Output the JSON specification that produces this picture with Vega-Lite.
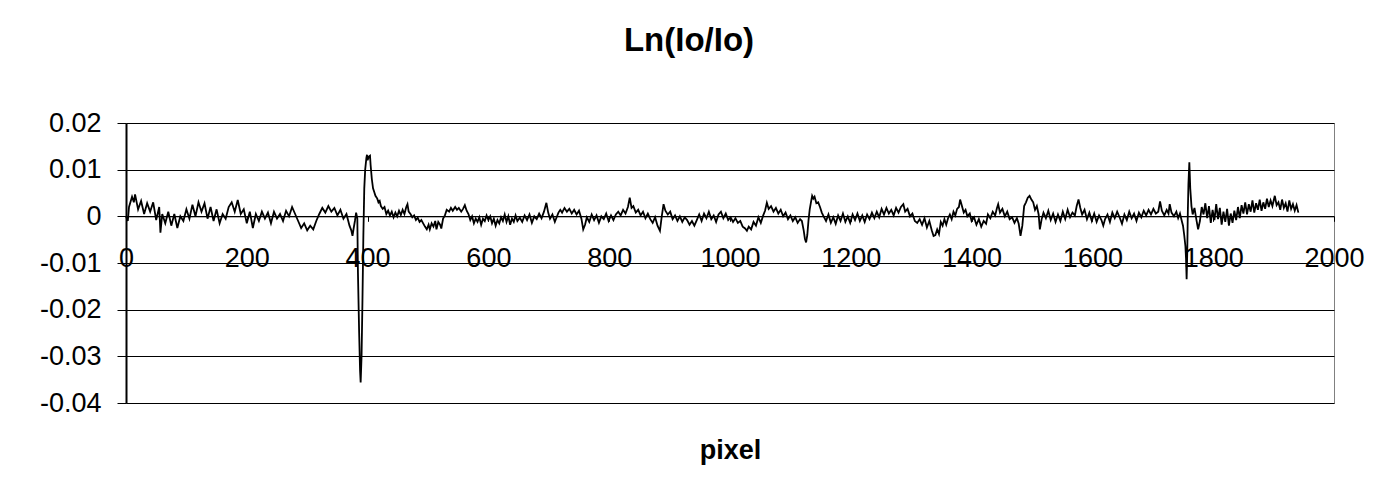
{
"$schema": "https://vega.github.io/schema/vega-lite/v6.json",
"width": 1208,
"height": 280,
"autosize": {"type": "none"},
"padding": {"left": 126, "top": 123, "right": 44, "bottom": 84},
"background": "#ffffff",
"title": {"text": "Ln(Io/Io)", "font": "Liberation Sans", "fontSize": 33, "fontWeight": "bold", "color": "#000000", "anchor": "middle", "frame": "group", "dx": -41, "offset": 25, "baseline": "alphabetic"},
"config": {"view": {"stroke": "#808080", "strokeWidth": 1}},
"data": {"values": [
{"x":0,"y":0},{"x":3,"y":-0.001},{"x":5,"y":0.002},{"x":10,"y":0.0042},{"x":13,"y":0.003},{"x":15,"y":0.0047},{"x":20,"y":0.0015},{"x":25,"y":0.0033},{"x":30,"y":0.0005},{"x":35,"y":0.0028},{"x":40,"y":0.001},{"x":45,"y":0.003},{"x":50,"y":-0.0008},{"x":55,"y":0.002},{"x":57,"y":-0.0035},{"x":60,"y":0.0005},{"x":65,"y":-0.0015},{"x":70,"y":0.001},{"x":75,"y":-0.002},{"x":80,"y":0.0005},{"x":85,"y":-0.0025},{"x":90,"y":0},{"x":95,"y":-0.001},{"x":100,"y":0.0015},{"x":105,"y":-0.0005},{"x":110,"y":0.0025},{"x":115,"y":0},{"x":120,"y":0.003},{"x":125,"y":0.001},{"x":130,"y":0.0028},{"x":135,"y":-0.0005},{"x":140,"y":0.002},{"x":145,"y":-0.001},{"x":150,"y":0.0015},{"x":155,"y":-0.0015},{"x":160,"y":0.0005},{"x":165,"y":-0.0005},{"x":170,"y":0.002},{"x":175,"y":0.003},{"x":180,"y":0.001},{"x":185,"y":0.0035},{"x":190,"y":0.0005},{"x":195,"y":0.0015},{"x":200,"y":-0.0015},{"x":205,"y":0.001},{"x":210,"y":-0.0025},{"x":215,"y":0.0005},{"x":220,"y":-0.001},{"x":225,"y":0.001},{"x":230,"y":-0.0005},{"x":235,"y":0.0008},{"x":240,"y":-0.0015},{"x":245,"y":0.001},{"x":250,"y":-0.0005},{"x":255,"y":0.0005},{"x":260,"y":-0.001},{"x":265,"y":0.0012},{"x":270,"y":0},{"x":275,"y":0.002},{"x":280,"y":0.0005},{"x":285,"y":-0.001},{"x":290,"y":-0.0025},{"x":295,"y":-0.0015},{"x":300,"y":-0.003},{"x":305,"y":-0.002},{"x":310,"y":-0.0028},{"x":315,"y":-0.001},{"x":320,"y":0.0005},
{"x":325,"y":0.0018},{"x":330,"y":0.0008},{"x":335,"y":0.0022},{"x":340,"y":0.001},{"x":345,"y":0.0018},{"x":350,"y":0.0002},{"x":355,"y":0.0014},{"x":360,"y":-0.0005},{"x":365,"y":0.0005},{"x":370,"y":-0.002},{"x":373,"y":-0.003},{"x":375,"y":-0.0042},{"x":377,"y":-0.0025},{"x":379,"y":-0.001},{"x":381,"y":0.0008},{"x":383,"y":-0.0005},{"x":384,"y":-0.012},{"x":386,"y":-0.025},{"x":387.5,"y":-0.033},{"x":388.5,"y":-0.0356},{"x":390,"y":-0.03},{"x":391.5,"y":-0.018},{"x":393,"y":-0.004},{"x":394.5,"y":0.006},{"x":396,"y":0.01},{"x":398,"y":0.0125},{"x":399,"y":0.0132},{"x":400,"y":0.012},{"x":402,"y":0.0128},{"x":404,"y":0.013},{"x":405,"y":0.011},{"x":407,"y":0.008},{"x":409,"y":0.006},{"x":411,"y":0.0052},{"x":413,"y":0.0044},{"x":416,"y":0.0038},{"x":418,"y":0.003},{"x":420,"y":0.0033},{"x":422,"y":0.0022},{"x":425,"y":0.0016},{"x":428,"y":0.002},{"x":431,"y":0.0005},{"x":434,"y":0.0012},{"x":437,"y":0.0002},{"x":440,"y":0.001},{"x":443,"y":-0.0002},{"x":446,"y":0.0008},{"x":449,"y":0},{"x":452,"y":0.0012},{"x":455,"y":0.0003},{"x":458,"y":0.0014},{"x":461,"y":0.0005},{"x":464,"y":0.002},{"x":466,"y":0.0026},{"x":468,"y":0.001},{"x":471,"y":0.0005},{"x":474,"y":-0.0002},{"x":477,"y":0.0002},{"x":480,"y":-0.0008},{"x":483,"y":-0.0003},{"x":486,"y":-0.0012},{"x":489,"y":-0.0008},{"x":492,"y":-0.0015},{"x":495,"y":-0.0022},{"x":498,"y":-0.0028},{"x":501,"y":-0.0018},{"x":503,"y":-0.0028},{"x":506,"y":-0.0015},{"x":509,"y":-0.0022},{"x":512,"y":-0.001},{"x":514,"y":-0.0028},{"x":517,"y":-0.0012},{"x":520,"y":-0.0018},{"x":522,"y":-0.0026},{"x":525,"y":-0.0005},{"x":528,"y":0.0002},{"x":531,"y":0.0014},{"x":535,"y":0.001},{"x":538,"y":0.0018},{"x":541,"y":0.0012},{"x":545,"y":0.002},{"x":548,"y":0.0014},{"x":551,"y":0.0018},{"x":555,"y":0.001},{"x":558,"y":0.0016},{"x":561,"y":0.0024},{"x":564,"y":0.0012},{"x":567,"y":0.0005},{"x":570,"y":-0.0008},{"x":573,"y":0},{"x":576,"y":-0.0015},{"x":579,"y":-0.0005},{"x":582,"y":-0.0012},{"x":585,"y":-0.0002},{"x":588,"y":-0.0018},{"x":591,"y":-0.0005},{"x":594,"y":-0.001},{"x":597,"y":0.0002},{"x":600,"y":-0.0008},{"x":603,"y":0},{"x":606,"y":-0.0015},{"x":609,"y":-0.0005},{"x":612,"y":-0.002},{"x":615,"y":-0.0008},{"x":618,"y":-0.0015},{"x":621,"y":-0.0002},{"x":624,"y":-0.001},{"x":627,"y":0.0004},{"x":630,"y":-0.0012},{"x":633,"y":0},{"x":636,"y":-0.0018},{"x":639,"y":-0.0005},{"x":642,"y":-0.0012},{"x":645,"y":0.0002},{"x":648,"y":-0.001},{"x":652,"y":-0.0003},
{"x":656,"y":-0.0012},{"x":660,"y":0.0002},{"x":664,"y":-0.0008},{"x":668,"y":0.0004},{"x":672,"y":-0.0014},{"x":676,"y":0},{"x":680,"y":-0.0006},{"x":684,"y":0.0006},{"x":688,"y":-0.0004},{"x":692,"y":0.001},{"x":696,"y":0.0029},{"x":699,"y":0.0008},{"x":702,"y":-0.0005},{"x":706,"y":0.0004},{"x":710,"y":-0.0012},{"x":713,"y":-0.0002},{"x":716,"y":0.0008},{"x":719,"y":0.0014},{"x":722,"y":0.0008},{"x":726,"y":0.0018},{"x":730,"y":0.001},{"x":734,"y":0.0016},{"x":738,"y":0.0006},{"x":742,"y":0.0014},{"x":746,"y":0.0004},{"x":750,"y":0.0012},{"x":754,"y":-0.0005},{"x":757,"y":-0.0028},{"x":760,"y":-0.0018},{"x":763,"y":-0.0002},{"x":767,"y":-0.0012},{"x":771,"y":0.0004},{"x":775,"y":-0.0008},{"x":779,"y":0.0002},{"x":783,"y":-0.0014},{"x":787,"y":0},{"x":791,"y":-0.0006},{"x":795,"y":0.0006},{"x":799,"y":-0.001},{"x":803,"y":0.0002},{"x":807,"y":-0.0008},{"x":811,"y":0.0004},{"x":815,"y":0.001},{"x":819,"y":0.0002},{"x":823,"y":0.0014},{"x":827,"y":0.0006},{"x":831,"y":0.002},{"x":834,"y":0.004},{"x":837,"y":0.0018},{"x":840,"y":0.0022},{"x":844,"y":0.0008},{"x":848,"y":0.0014},{"x":852,"y":0.0002},{"x":856,"y":0.001},{"x":860,"y":-0.0004},{"x":864,"y":0.0006},{"x":868,"y":-0.0006},{"x":872,"y":-0.0014},{"x":876,"y":-0.0002},{"x":880,"y":-0.002},{"x":884,"y":-0.0031},{"x":887,"y":0},{"x":890,"y":0.0026},{"x":893,"y":0.0012},{"x":897,"y":0.0004},{"x":901,"y":0.001},{"x":905,"y":-0.0006},{"x":909,"y":0.0002},{"x":913,"y":-0.001},{"x":917,"y":0},{"x":921,"y":-0.0012},{"x":925,"y":-0.0002},{"x":929,"y":-0.0008},{"x":933,"y":-0.0018},{"x":937,"y":-0.001},{"x":941,"y":-0.002},{"x":945,"y":-0.0008},{"x":949,"y":0.0004},{"x":953,"y":-0.001},{"x":957,"y":0.0006},{"x":961,"y":-0.0004},{"x":965,"y":0.001},{"x":969,"y":-0.0006},{"x":973,"y":0.0002},{"x":977,"y":-0.0012},{"x":981,"y":0.0004},
{"x":985,"y":0.001},{"x":989,"y":-0.0004},{"x":993,"y":0.0006},{"x":997,"y":-0.0008},{"x":1001,"y":-0.0002},{"x":1005,"y":-0.0012},{"x":1009,"y":-0.0004},{"x":1013,"y":-0.0014},{"x":1017,"y":-0.001},{"x":1021,"y":-0.0022},{"x":1025,"y":-0.0026},{"x":1028,"y":-0.0031},{"x":1031,"y":-0.0022},{"x":1035,"y":-0.0028},{"x":1039,"y":-0.0012},{"x":1043,"y":-0.002},{"x":1047,"y":-0.0002},{"x":1051,"y":-0.0014},{"x":1055,"y":0.0002},{"x":1058,"y":0.0012},{"x":1061,"y":0.0029},{"x":1064,"y":0.0016},{"x":1068,"y":0.0022},{"x":1072,"y":0.001},{"x":1076,"y":0.0018},{"x":1080,"y":0.0006},{"x":1084,"y":0.0014},{"x":1088,"y":0},{"x":1092,"y":0.0008},{"x":1096,"y":-0.0006},{"x":1100,"y":0.0002},{"x":1104,"y":-0.001},{"x":1108,"y":-0.0002},{"x":1112,"y":-0.0014},{"x":1116,"y":-0.0006},{"x":1119,"y":-0.001},{"x":1122,"y":-0.003},{"x":1124,"y":-0.0048},{"x":1126,"y":-0.0056},{"x":1128,"y":-0.004},{"x":1130,"y":-0.0008},{"x":1132,"y":0.0015},{"x":1134,"y":0.003},{"x":1136,"y":0.0044},{"x":1138,"y":0.0038},{"x":1140,"y":0.0042},{"x":1143,"y":0.0028},{"x":1146,"y":0.003},{"x":1149,"y":0.002},{"x":1152,"y":0.0008},{"x":1155,"y":0},{"x":1159,"y":-0.001},{"x":1163,"y":0.0004},{"x":1167,"y":-0.0014},{"x":1171,"y":-0.0002},{"x":1175,"y":-0.0016},{"x":1179,"y":0.0002},{"x":1183,"y":-0.001},{"x":1187,"y":0.0006},{"x":1191,"y":-0.0012},{"x":1195,"y":0},{"x":1199,"y":-0.0014},{"x":1203,"y":0.0004},{"x":1207,"y":-0.0008},{"x":1211,"y":0.0006},{"x":1215,"y":-0.001},{"x":1219,"y":0.0002},{"x":1223,"y":-0.0012},{"x":1227,"y":0.0004},{"x":1231,"y":-0.0006},{"x":1235,"y":0.0008},{"x":1239,"y":-0.0004},{"x":1243,"y":0.001},{"x":1247,"y":-0.0002},{"x":1251,"y":0.0016},{"x":1255,"y":0.0004},{"x":1259,"y":0.0018},{"x":1263,"y":0.0006},{"x":1267,"y":0.0014},{"x":1271,"y":0.0002},{"x":1275,"y":0.0018},{"x":1279,"y":0.0008},{"x":1283,"y":0.002},{"x":1287,"y":0.0026},{"x":1290,"y":0.001},{"x":1294,"y":0.0016},{"x":1298,"y":0},{"x":1302,"y":0.0006},{"x":1306,"y":-0.001},{"x":1310,"y":-0.0014},{"x":1314,"y":-0.0006},
{"x":1318,"y":-0.0018},{"x":1322,"y":-0.0004},{"x":1326,"y":-0.0024},{"x":1330,"y":-0.001},{"x":1334,"y":-0.003},{"x":1337,"y":-0.0042},{"x":1340,"y":-0.004},{"x":1343,"y":-0.0028},{"x":1346,"y":-0.0038},{"x":1349,"y":-0.0012},{"x":1352,"y":-0.002},{"x":1355,"y":-0.0006},{"x":1358,"y":-0.0018},{"x":1361,"y":-0.0004},{"x":1364,"y":0.0004},{"x":1367,"y":-0.0006},{"x":1370,"y":0.001},{"x":1373,"y":0.0002},{"x":1376,"y":0.0016},{"x":1379,"y":0.002},{"x":1381,"y":0.0036},{"x":1384,"y":0.0022},{"x":1387,"y":0.0008},{"x":1390,"y":0.0014},{"x":1393,"y":0},{"x":1397,"y":0.0006},{"x":1400,"y":-0.001},{"x":1404,"y":-0.0002},{"x":1408,"y":-0.0018},{"x":1412,"y":-0.0006},{"x":1416,"y":-0.0022},{"x":1420,"y":-0.001},{"x":1424,"y":-0.0016},{"x":1427,"y":0.0004},{"x":1431,"y":-0.0004},{"x":1435,"y":0.001},{"x":1439,"y":0.0002},{"x":1442,"y":0.0018},{"x":1444,"y":0.0026},{"x":1447,"y":0.0008},{"x":1451,"y":0.0016},{"x":1455,"y":0},{"x":1459,"y":0.001},{"x":1463,"y":-0.0006},{"x":1467,"y":-0.0002},{"x":1471,"y":-0.0014},{"x":1475,"y":-0.0004},{"x":1478,"y":-0.0016},{"x":1481,"y":-0.0042},{"x":1484,"y":-0.002},{"x":1487,"y":0.0022},{"x":1490,"y":0.003},{"x":1493,"y":0.004},{"x":1496,"y":0.0044},{"x":1499,"y":0.0036},{"x":1502,"y":0.003},{"x":1505,"y":0.0014},{"x":1508,"y":0.0022},{"x":1511,"y":0.0004},{"x":1513,"y":-0.0028},{"x":1516,"y":-0.0006},{"x":1519,"y":0.0008},{"x":1523,"y":-0.0004},{"x":1527,"y":0.0012},{"x":1531,"y":-0.0008},{"x":1535,"y":0.0006},{"x":1539,"y":-0.0012},{"x":1543,"y":0.0004},{"x":1547,"y":-0.001},{"x":1551,"y":0.001},{"x":1555,"y":-0.0006},{"x":1559,"y":0.0014},{"x":1563,"y":-0.0002},{"x":1567,"y":0.0008},{"x":1571,"y":0.0002},{"x":1574,"y":0.0022},{"x":1577,"y":0.0036},{"x":1580,"y":0.0018},{"x":1583,"y":0.0004},{"x":1587,"y":0.0014},{"x":1591,"y":-0.0006},{"x":1595,"y":0.0008},{"x":1599,"y":-0.001},{"x":1603,"y":0.0006},{"x":1607,"y":-0.0012},{"x":1611,"y":0.0002},{"x":1615,"y":-0.0008},{"x":1618,"y":-0.002},{"x":1621,"y":-0.0006},{"x":1625,"y":0.0004},{"x":1629,"y":-0.0012},{"x":1633,"y":0.0008},{"x":1637,"y":-0.0004},{"x":1641,"y":0.001},{"x":1645,"y":-0.0002},
{"x":1649,"y":-0.0016},{"x":1653,"y":0.0004},{"x":1657,"y":-0.0008},{"x":1661,"y":0.001},{"x":1665,"y":-0.0004},{"x":1669,"y":0.0006},{"x":1673,"y":-0.001},{"x":1677,"y":0.0008},{"x":1681,"y":-0.0002},{"x":1685,"y":0.0012},{"x":1689,"y":0.0002},{"x":1693,"y":0.0014},{"x":1697,"y":0.0004},{"x":1701,"y":0.0016},{"x":1705,"y":0.0006},{"x":1709,"y":0.001},{"x":1712,"y":0.0032},{"x":1715,"y":0.0012},{"x":1719,"y":0.0002},{"x":1723,"y":0.0014},{"x":1726,"y":0.0006},{"x":1728,"y":0.0026},{"x":1731,"y":0.0008},{"x":1735,"y":0},{"x":1739,"y":0.001},{"x":1742,"y":-0.0004},{"x":1745,"y":0.0006},{"x":1748,"y":-0.001},{"x":1750,"y":-0.002},{"x":1752,"y":-0.004},{"x":1754,"y":-0.0064},{"x":1755,"y":-0.009},{"x":1756,"y":-0.0135},{"x":1757,"y":-0.008},{"x":1758,"y":0.001},{"x":1759,"y":0.007},{"x":1760.5,"y":0.0116},{"x":1762,"y":0.006},{"x":1764,"y":0.0022},{"x":1766,"y":0.0004},{"x":1769,"y":0.0018},{"x":1772,"y":-0.0006},{"x":1775,"y":-0.0028},{"x":1778,"y":-0.001},{"x":1781,"y":0.002},{"x":1784,"y":0.0004},{"x":1787,"y":0.0028},{"x":1790,"y":-0.0004},{"x":1793,"y":0.0022},{"x":1796,"y":-0.0014},{"x":1799,"y":0.0014},{"x":1802,"y":-0.0008},{"x":1805,"y":0.0026},{"x":1808,"y":-0.0006},{"x":1811,"y":0.0018},{"x":1814,"y":-0.0018},{"x":1817,"y":0.001},{"x":1820,"y":-0.0012},{"x":1823,"y":0.0016},{"x":1826,"y":-0.002},{"x":1829,"y":0.0006},{"x":1832,"y":-0.0014},{"x":1835,"y":0.0012},{"x":1838,"y":-0.0008},{"x":1841,"y":0.002},{"x":1844,"y":-0.0004},{"x":1847,"y":0.0024},{"x":1850,"y":0.0006},{"x":1853,"y":0.003},{"x":1856,"y":0.0004},{"x":1859,"y":0.0026},{"x":1862,"y":0.001},{"x":1865,"y":0.0034},{"x":1868,"y":0.0008},{"x":1871,"y":0.0028},{"x":1874,"y":0.0014},{"x":1877,"y":0.0036},{"x":1880,"y":0.0012},{"x":1883,"y":0.003},{"x":1886,"y":0.0016},{"x":1889,"y":0.0038},{"x":1892,"y":0.002},{"x":1895,"y":0.0034},{"x":1898,"y":0.0022},{"x":1902,"y":0.0044},{"x":1905,"y":0.0024},{"x":1908,"y":0.003},{"x":1911,"y":0.0014},{"x":1914,"y":0.0036},{"x":1917,"y":0.0018},{"x":1920,"y":0.0028},{"x":1923,"y":0.001},{"x":1926,"y":0.0034},{"x":1929,"y":0.0016},{"x":1932,"y":0.0026},{"x":1935,"y":0.0012},{"x":1938,"y":0.0024},{"x":1941,"y":0.0008}
]},
"mark": {"type": "line", "color": "#000000", "strokeWidth": 1.8},
"encoding": {
"x": {"field": "x", "type": "quantitative",
"scale": {"domain": [0, 2000], "nice": false, "zero": false},
"axis": {"values": [0,200,400,600,800,1000,1200,1400,1600,1800,2000], "format": "d", "offset": -186.7, "grid": false,
"domainColor": "#000000", "domainWidth": 1, "tickColor": "#000000", "tickSize": 5, "tickWidth": 1,
"labelPadding": 24, "labelFont": "Liberation Sans", "labelFontSize": 27, "labelColor": "#000000", "labelFlush": false, "labelOverlap": false,
"title": "pixel", "titleFont": "Liberation Sans", "titleFontSize": 27, "titleFontWeight": "bold", "titleColor": "#000000", "titleBaseline": "alphabetic", "titleY": 242}},
"y": {"field": "y", "type": "quantitative",
"scale": {"domain": [-0.04, 0.02], "nice": false, "zero": false},
"axis": {"values": [-0.04,-0.03,-0.02,-0.01,0,0.01,0.02], "labelExpr": "replace(format(datum.value, '.2~f'), '\u2212', '-')",
"grid": true, "gridColor": "#000000", "gridWidth": 1,
"domainColor": "#000000", "domainWidth": 2, "tickColor": "#000000", "tickSize": 9, "tickWidth": 1,
"labelPadding": 16, "labelFont": "Liberation Sans", "labelFontSize": 27, "labelColor": "#000000", "labelFlush": false, "labelOverlap": false,
"title": null}}
}
}
